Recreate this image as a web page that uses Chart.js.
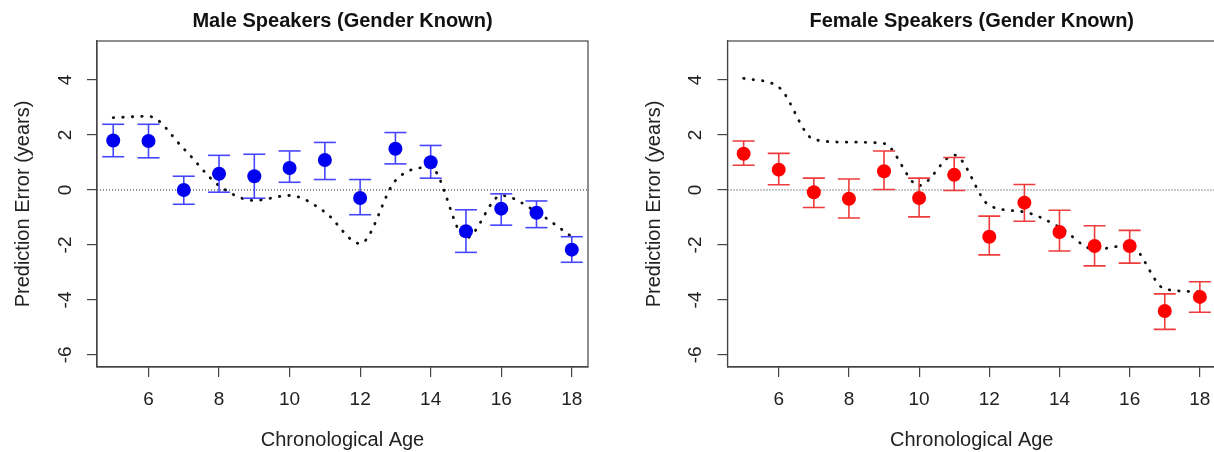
<!DOCTYPE html>
<html>
<head>
<meta charset="utf-8">
<script src="https://cdn.jsdelivr.net/npm/chart.js@4.4.0/dist/chart.umd.min.js"></script>
<style>
  html, body { margin: 0; padding: 0; background: #fff; }
  body { width: 1214px; height: 452px; overflow: hidden; position: relative; }
  canvas { position: absolute; top: 0; }
  #male { left: 0; }
  #female { left: 607px; }
</style>
</head>
<body>
<canvas id="male" width="607" height="452"></canvas>
<canvas id="female" width="622" height="452"></canvas>
<script>
// ---------- data ----------
const ages = [5, 6, 7, 8, 9, 10, 11, 12, 13, 14, 15, 16, 17, 18];
const xTicks = [6, 8, 10, 12, 14, 16, 18];
const yTicks = [-6, -4, -2, 0, 2, 4];
const xRange = [4.54, 18.46];
const yRange = [-6.44, 5.42];

const maleMean  = [1.80, 1.78, 0.00, 0.59, 0.50, 0.80, 1.09, -0.29, 1.50, 1.01, -1.50, -0.68, -0.83, -2.17];
const maleUpper = [2.39, 2.39, 0.50, 1.26, 1.30, 1.42, 1.73, 0.38, 2.09, 1.62, -0.72, -0.14, -0.40, -1.70];
const maleLower = [1.21, 1.17, -0.52, -0.08, -0.30, 0.28, 0.38, -0.90, 0.95, 0.43, -2.27, -1.28, -1.37, -2.63];
const malePred  = [2.63, 2.68, 1.50, 0.16, -0.38, -0.20, -0.80, -1.95, 0.34, 0.82, -1.75, -0.20, -0.80, -1.70];

const femaleMean  = [1.32, 0.74, -0.08, -0.32, 0.68, -0.29, 0.55, -1.70, -0.46, -1.53, -2.04, -2.04, -4.40, -3.89];
const femaleUpper = [1.78, 1.33, 0.43, 0.40, 1.42, 0.43, 1.18, -0.95, 0.20, -0.74, -1.30, -1.47, -3.78, -3.34];
const femaleLower = [0.90, 0.19, -0.64, -1.02, 0.02, -0.98, -0.02, -2.36, -1.14, -2.22, -2.76, -2.66, -5.07, -4.45];
const femalePred  = [4.06, 3.74, 1.84, 1.74, 1.69, 0.16, 1.27, -0.56, -0.80, -1.35, -2.16, -2.01, -3.60, -3.70];

const zeroLevel = 0;

// ---------- helpers ----------
Chart.defaults.font.family = "'Liberation Sans', Arial, sans-serif";
Chart.defaults.color = '#222';

const pts = (ys) => ages.map((a, i) => ({ x: a, y: ys[i] }));
const barData = (lower, upper) => {
  const d = [];
  ages.forEach((a, i) => { d.push({ x: a, y: lower[i] }, { x: a, y: upper[i] }, { x: a, y: null }); });
  return d;
};

const frame = {
  id: 'frame',
  afterDraw(chart) {
    const { ctx, chartArea: c } = chart;
    ctx.save();
    ctx.strokeStyle = '#444';
    ctx.lineWidth = 1.2;
    ctx.strokeRect(c.left, c.top, c.right - c.left, c.bottom - c.top);
    ctx.restore();
  }
};

function makeChart(id, cfg) {
  const axisColor = '#444';
  return new Chart(document.getElementById(id), {
    type: 'scatter',
    data: {
      datasets: [
        { data: pts(cfg.mean), showLine: false, pointRadius: 7, pointHoverRadius: 7,
          backgroundColor: cfg.point, borderWidth: 0, order: 0 },
        { data: barData(cfg.lower, cfg.upper), showLine: true, spanGaps: false,
          borderColor: cfg.bar, borderWidth: 1.6, tension: 0,
          pointStyle: 'line', pointRadius: 11, pointHoverRadius: 11,
          pointBorderColor: cfg.bar, pointBorderWidth: 1.6, order: 1 },
        { data: pts(cfg.pred), showLine: true, borderColor: '#111', borderWidth: 2.8,
          borderDash: [0.5, 9], borderCapStyle: 'round', cubicInterpolationMode: 'monotone',
          pointRadius: 0, order: 2 },
        { data: [{ x: xRange[0], y: zeroLevel }, { x: xRange[1], y: zeroLevel }], showLine: true,
          borderColor: '#222', borderWidth: 1, borderDash: [1, 2], pointRadius: 0, order: 3 }
      ]
    },
    options: {
      responsive: false,
      animation: false,
      devicePixelRatio: 1,
      events: [],
      layout: { padding: { left: cfg.padLeft, right: cfg.padRight, top: 0, bottom: 0 } },
      plugins: {
        legend: { display: false },
        tooltip: { enabled: false },
        title: {
          display: true, text: cfg.title, fullSize: false,
          font: { size: 20, weight: 'bold' }, color: '#111',
          padding: { top: 9, bottom: 8 }
        }
      },
      scales: {
        x: {
          type: 'linear', min: xRange[0], max: xRange[1],
          afterBuildTicks: s => { s.ticks = xTicks.map(v => ({ value: v })); },
          afterFit: s => { s.height = 85; },
          grid: { drawOnChartArea: false, drawTicks: true, tickLength: 10, color: axisColor, lineWidth: 1.2 },
          border: { display: true, color: axisColor, width: 1.2 },
          ticks: { padding: 11, font: { size: 19 }, color: '#222', autoSkip: false, maxRotation: 0 },
          title: { display: true, text: 'Chronological Age', font: { size: 20 }, color: '#222', padding: { top: 0, bottom: 0 } }
        },
        y: {
          type: 'linear', min: yRange[0], max: yRange[1],
          afterBuildTicks: s => { s.ticks = yTicks.map(v => ({ value: v })); },
          afterFit: s => { s.width = cfg.yWidth; },
          grid: { drawOnChartArea: false, drawTicks: true, tickLength: 10, color: axisColor, lineWidth: 1.2 },
          border: { display: true, color: axisColor, width: 1.2 },
          ticks: { minRotation: 90, maxRotation: 90, crossAlign: 'center', padding: 13,
                   font: { size: 19 }, color: '#222', callback: v => String(v) },
          title: { display: true, text: 'Prediction Error (years)', font: { size: 20 }, color: '#222',
                   padding: { top: 11, bottom: 0 } }
        }
      }
    },
    plugins: [frame]
  });
}

makeChart('male', {
  title: 'Male Speakers (Gender Known)',
  mean: maleMean, upper: maleUpper, lower: maleLower, pred: malePred,
  point: '#0000f0', bar: '#4646ff',
  padLeft: 0, padRight: 19, yWidth: 97
});

makeChart('female', {
  title: 'Female Speakers (Gender Known)',
  mean: femaleMean, upper: femaleUpper, lower: femaleLower, pred: femalePred,
  point: '#ff0000', bar: '#ee3b3b',
  padLeft: 24, padRight: 13, yWidth: 96.5
});
</script>
</body>
</html>
